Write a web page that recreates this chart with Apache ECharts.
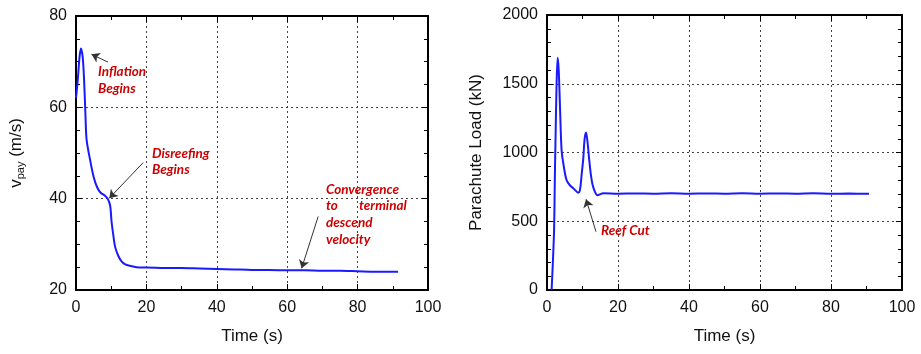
<!DOCTYPE html>
<html>
<head>
<meta charset="utf-8">
<script src="https://cdn.jsdelivr.net/npm/echarts@6/dist/echarts.min.js"></script>
<style>
  html, body { margin: 0; padding: 0; background: #fff; }
  #container { width: 921px; height: 354px; }
</style>
</head>
<body>
<div id="container"></div>
<script>
const dom = document.getElementById('container')
const myChart = echarts.init(dom)

// left panel: payload velocity (m/s) vs time (s)
const velTime = [0, 0.5, 1, 1.4, 1.9, 2.3, 2.7, 3.0, 4, 5, 6, 7, 8, 9, 9.7, 10.1, 10.6, 11.1, 12, 13, 14, 15.3, 18, 20, 25, 30, 35, 40, 45, 50, 55, 60, 65, 70, 75, 80, 85, 91.5]
const velocity = [62, 66, 71, 72.9, 71, 66, 58, 53, 48.5, 44.8, 42.5, 41.3, 40.8, 40, 38.5, 35, 32, 29.5, 27.5, 26.2, 25.6, 25.3, 24.9, 24.9, 24.8, 24.8, 24.7, 24.6, 24.5, 24.4, 24.4, 24.3, 24.3, 24.2, 24.2, 24.1, 24.0, 24.0]

// right panel: parachute load (kN) vs time (s)
const loadTime = [1.3, 1.6, 2.0, 2.2, 2.4, 2.7, 3.0, 3.3, 3.7, 4.1, 4.6, 5.5, 6.5, 7.4, 8.8, 9.3, 9.8, 10.2, 10.6, 11.0, 11.4, 11.9, 12.4, 13.0, 14.2, 15.9, 20, 25, 30, 35, 40, 45, 50, 55, 60, 65, 70, 75, 80, 85, 90.7]
const load = [0, 170, 440, 800, 1100, 1500, 1690, 1600, 1300, 1020, 920, 800, 760, 740, 708, 730, 850, 950, 1100, 1145, 1080, 945, 830, 750, 690, 703, 700, 702, 700, 703, 700, 702, 700, 703, 700, 702, 700, 703, 700, 701, 700]

const xTicks = [0, 20, 40, 60, 80, 100]

const pair = (xs, ys) => xs.map((x, i) => [x, ys[i]])

const labelFont = { color: '#111', fontSize: 16, fontFamily: 'Liberation Sans', formatter: (v) => String(v) }
const gridLine = { show: true, lineStyle: { color: '#444', type: [2, 3], width: 1 } }
const frame = { show: true, onZero: false, lineStyle: { color: '#000', width: 2 } }
const tick = { show: true, inside: true, length: 6, lineStyle: { color: '#000' } }
const minor = (n) => ({ show: true, splitNumber: n, length: 4, lineStyle: { color: '#000' } })

function xAxes(gridIndex) {
    return [
        {
            gridIndex, type: 'value', min: xTicks[0], max: xTicks[xTicks.length - 1], interval: 20,
            name: 'Time (s)', nameLocation: 'middle', nameGap: 38,
            nameTextStyle: { color: '#111', fontSize: 17, fontFamily: 'Liberation Sans' },
            axisLine: frame, axisTick: tick, minorTick: minor(2),
            axisLabel: Object.assign({ margin: 10 }, labelFont),
            splitLine: gridLine
        },
        {
            gridIndex, type: 'value', position: 'top', min: 0, max: 100, interval: 20,
            axisLine: frame, axisTick: tick, minorTick: minor(2),
            axisLabel: { show: false }, splitLine: { show: false }
        }
    ]
}

function yAxes(gridIndex, min, max, interval, minorN, name, gap) {
    return [
        {
            gridIndex, type: 'value', min, max, interval,
            name, nameLocation: 'middle', nameGap: gap,
            nameTextStyle: {
                color: '#111', fontSize: 17, fontFamily: 'Liberation Sans',
                rich: {
                    v: { fontSize: 17, color: '#111', fontFamily: 'Liberation Sans' },
                    sub: { fontSize: 11, color: '#111', fontFamily: 'Liberation Sans', padding: [8, 0, 0, 0] }
                }
            },
            axisLine: frame, axisTick: tick, minorTick: minor(minorN),
            axisLabel: Object.assign({ margin: 9 }, labelFont),
            splitLine: gridLine
        },
        {
            gridIndex, type: 'value', position: 'right', min, max, interval,
            axisLine: frame, axisTick: tick, minorTick: minor(minorN),
            axisLabel: { show: false }, splitLine: { show: false }
        }
    ]
}

const arrow = (from, to) => [{ coord: from }, { coord: to }]
const arrowStyle = {
    silent: true,
    symbol: ['none', 'arrow'],
    symbolSize: 8,
    label: { show: false },
    lineStyle: { color: '#333', width: 1, type: 'solid' },
    emphasis: { disabled: true }
}

const noteStyle = {
    fill: '#cc0000',
    font: 'italic bold 13.5px Lato',
    textVerticalAlign: 'middle'
}
const note = (text, x, y) => ({ type: 'text', left: x, top: y - 8, style: Object.assign({ text }, noteStyle) })

const option = {
    backgroundColor: '#fff',
    animation: false,
    grid: [
        { left: 76, top: 16, width: 352, height: 274 },
        { left: 547, top: 15, width: 355, height: 275 }
    ],
    xAxis: [...xAxes(0), ...xAxes(1)],
    yAxis: [
        ...yAxes(0, 20, 80, 20, 4, '{v|v}{sub|pay}{v| (m/s)}', 50),
        ...yAxes(1, 0, 2000, 500, 5, 'Parachute Load (kN)', 62)
    ],
    series: [
        {
            type: 'line', xAxisIndex: 0, yAxisIndex: 0,
            data: pair(velTime, velocity),
            showSymbol: false, smooth: 0.3,
            lineStyle: { color: '#1a1aff', width: 2 },
            markLine: Object.assign({
                data: [
                    arrow([9.1, 69.9], [4.4, 71.6]),
                    arrow([19.1, 47.9], [9.45, 40.1]),
                    arrow([68.8, 36.1], [64.1, 24.75])
                ]
            }, arrowStyle)
        },
        {
            type: 'line', xAxisIndex: 2, yAxisIndex: 2,
            data: pair(loadTime, load),
            showSymbol: false, smooth: 0.3,
            lineStyle: { color: '#1a1aff', width: 2 },
            markLine: Object.assign({
                data: [arrow([13.8, 424], [11.0, 660])]
            }, arrowStyle)
        }
    ],
    graphic: [
        note('Inflation', 98, 73),
        note('Begins', 98, 90),
        note('Disreefing', 152, 155),
        note('Begins', 152, 171),
        note('Convergence', 326, 191),
        note('to', 326, 207),
        note('terminal', 359, 207),
        note('descend', 326, 224),
        note('velocity', 326, 241),
        note('Reef Cut', 601, 232)
    ]
}

myChart.setOption(option)
</script>
</body>
</html>
